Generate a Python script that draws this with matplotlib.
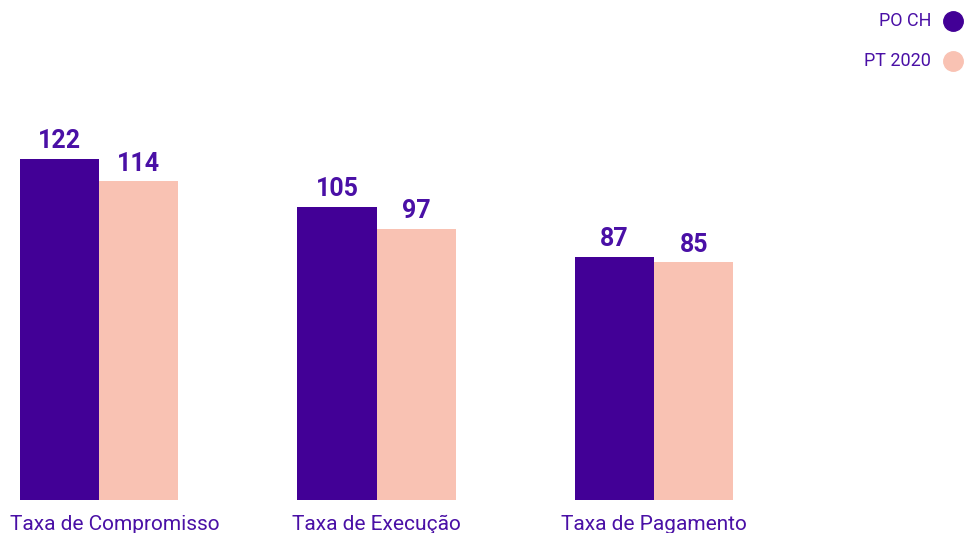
import matplotlib.pyplot as plt
import numpy as np

# Data
categories = ["Taxa de Compromisso", "Taxa de Execução", "Taxa de Pagamento"]
series_names = ["PO CH", "PT 2020"]
po_ch = [122, 105, 87]
pt_2020 = [114, 97, 85]

BAR_COLORS = ["#420096", "#f9c2b3"]
TEXT_COLOR = "#4a10a6"
FONT = ["Roboto", "DejaVu Sans"]

fig = plt.figure(figsize=(9.66, 5.33), dpi=100)
ax = fig.add_axes([0, 33 / 533, 1, 500 / 533])

x = np.arange(len(categories))
width = 0.286

bars1 = ax.bar(x - width / 2, po_ch, width, color=BAR_COLORS[0])
bars2 = ax.bar(x + width / 2, pt_2020, width, color=BAR_COLORS[1])

# Value labels above bars
for bars in (bars1, bars2):
    for b in bars:
        ax.annotate(f"{int(b.get_height())}",
                    (b.get_x() + b.get_width() / 2, b.get_height()),
                    xytext=(0, 4), textcoords="offset points",
                    ha="center", va="bottom", fontsize=18, fontweight="bold",
                    color=TEXT_COLOR, family=FONT)

ax.set_xlim(-0.357, 3.124)
ax.set_ylim(0, 178.9)
ax.axis("off")

# Category labels under the groups, nudged inside the figure if needed
fig.canvas.draw()
renderer = fig.canvas.get_renderer()
for xi, cat in zip(x, categories):
    t = ax.annotate(cat, (xi, 0), xytext=(0, -11), textcoords="offset points",
                    ha="center", va="top", fontsize=15, color=TEXT_COLOR,
                    family=FONT, annotation_clip=False)
    bb = t.get_window_extent(renderer)
    if bb.x0 < 10:
        t.xyann = ((10 - bb.x0) * 72 / fig.dpi, -11)

# Legend at top right
for i, (name, c) in enumerate(zip(series_names, BAR_COLORS)):
    y = 1 - (21 + 40 * i) / 533
    fig.text(931 / 966, y, name, ha="right", va="center", fontsize=13,
             color=TEXT_COLOR, family=FONT)
    fig.add_artist(plt.Line2D([953 / 966], [y], marker="o", markersize=14,
                              color=c, linestyle="none"))

plt.savefig("out.png", dpi=100)
